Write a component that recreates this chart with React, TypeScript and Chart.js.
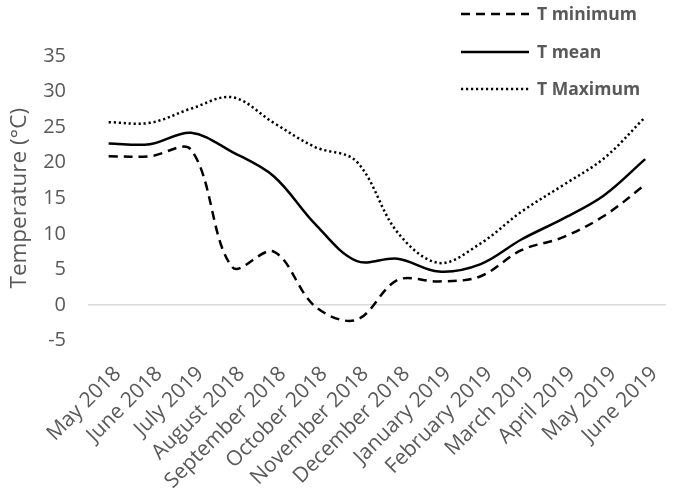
import React, { useEffect, useRef } from "react";
import { Chart, registerables } from "chart.js";

Chart.register(...registerables);

const categories = [
  "May 2018",
  "June 2018",
  "July 2019",
  "August 2018",
  "September 2018",
  "October 2018",
  "November 2018",
  "December 2018",
  "January 2019",
  "February 2019",
  "March 2019",
  "April 2019",
  "May 2019",
  "June 2019",
];

const tMinimum = [20.9, 20.9, 21.8, 5.3, 7.5, -0.2, -2.1, 3.5, 3.3, 4.0, 7.7, 9.5, 12.5, 16.9];
const tMean = [22.7, 22.6, 24.2, 21.5, 18.1, 11.4, 6.2, 6.5, 4.7, 5.7, 9.2, 12.1, 15.4, 20.5];
const tMaximum = [25.7, 25.6, 27.6, 29.2, 25.6, 22.2, 20.2, 10.2, 5.9, 8.6, 13.1, 16.8, 20.6, 26.4];

const yMin = -5;
const yMax = 35;
const yStep = 5;

const seriesLabels = ["T minimum", "T mean", "T Maximum"];
const axisTitle = "Temperature (°C)";

const TEXT = "#595959";
const FONT = "'Open Sans'";

const legendPlugin = {
  id: "sideLegend",
  afterDraw(chart: any) {
    const ctx = chart.ctx;
    const x0 = 461;
    const x1 = 529;
    const tx = 537;
    const rows = [14, 52, 89];
    chart.data.datasets.forEach((ds: any, i: number) => {
      ctx.save();
      ctx.strokeStyle = ds.borderColor;
      ctx.lineWidth = ds.borderWidth;
      ctx.lineCap = "butt";
      ctx.setLineDash(ds.borderDash || []);
      ctx.beginPath();
      ctx.moveTo(x0, rows[i]);
      ctx.lineTo(x1, rows[i]);
      ctx.stroke();
      ctx.setLineDash([]);
      ctx.fillStyle = TEXT;
      ctx.font = "bold 17.5px " + FONT;
      ctx.textBaseline = "middle";
      ctx.textAlign = "left";
      ctx.fillText(ds.label, tx, rows[i] + 1);
      ctx.restore();
    });
  },
};

export default function App() {
  const canvasRef = useRef<HTMLCanvasElement | null>(null);

  useEffect(() => {
    let chart: Chart | null = null;
    let cancelled = false;
    document.body.style.margin = "0";

    const build = () => {
      if (cancelled || !canvasRef.current) return;
      chart = new Chart(canvasRef.current, {
        type: "line",
        data: {
          labels: categories,
          datasets: [
            {
              label: seriesLabels[0],
              data: tMinimum,
              borderColor: "#000000",
              borderWidth: 2.5,
              borderDash: [9, 6],
              pointRadius: 0,
              tension: 0.35,
              fill: false,
            },
            {
              label: seriesLabels[1],
              data: tMean,
              borderColor: "#000000",
              borderWidth: 2.5,
              pointRadius: 0,
              tension: 0.35,
              fill: false,
            },
            {
              label: seriesLabels[2],
              data: tMaximum,
              borderColor: "#000000",
              borderWidth: 2.5,
              borderDash: [2.2, 2.8],
              pointRadius: 0,
              tension: 0.35,
              fill: false,
            },
          ],
        },
        options: {
          responsive: false,
          animation: false,
          devicePixelRatio: 1,
          layout: { padding: { top: 56, right: 0, left: 0, bottom: 0 } },
          plugins: {
            legend: { display: false },
            tooltip: { enabled: false },
          },
          scales: {
            x: {
              offset: true,
              grid: { display: false, drawTicks: false },
              border: { display: false },
              ticks: {
                minRotation: 45,
                maxRotation: 45,
                autoSkip: false,
                padding: 21,
                labelOffset: 9,
                color: TEXT,
                font: { family: FONT, size: 21 },
              },
              afterFit(scale: any) {
                scale.height = 154.5;
              },
            },
            y: {
              min: yMin,
              max: yMax,
              grid: {
                drawTicks: false,
                lineWidth: 1.5,
                color: (c: any) => (c.tick && c.tick.value === 0 ? "#d9d9d9" : "rgba(0,0,0,0)"),
              },
              border: { display: false },
              ticks: {
                stepSize: yStep,
                padding: 22,
                color: TEXT,
                font: { family: FONT, size: 20 },
              },
              title: {
                display: true,
                text: axisTitle,
                color: TEXT,
                font: { family: FONT, size: 22.5, weight: "normal" },
                padding: { top: 6, bottom: 0 },
              },
              afterFit(scale: any) {
                scale.width = 88;
              },
            },
          },
        },
        plugins: [legendPlugin],
      });
    };

    const fontsReady = (document as any).fonts
      ? Promise.all([
          (document as any).fonts.load("20px 'Open Sans'"),
          (document as any).fonts.load("bold 17px 'Open Sans'"),
        ]).catch(() => null)
      : Promise.resolve(null);
    fontsReady.then(build);

    return () => {
      cancelled = true;
      if (chart) chart.destroy();
    };
  }, []);

  return (
    <div style={{ position: "absolute", left: 0, top: 0, width: 684, height: 495 }}>
      <canvas ref={canvasRef} width={684} height={495} />
    </div>
  );
}
